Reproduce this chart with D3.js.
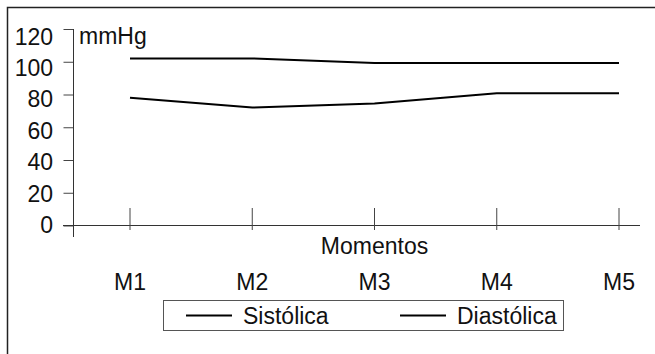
<!DOCTYPE html>
<html>
<head>
<meta charset="utf-8">
<script src="https://cdn.jsdelivr.net/npm/d3@7"></script>
<style>
  html, body { margin: 0; padding: 0; background: #fff; }
  svg { display: block; }
  text { font-family: "Liberation Sans", Arial, sans-serif; fill: #111; }
</style>
</head>
<body>
<svg id="chart" width="655" height="354"></svg>
<script>
// Blood pressure by moment (mmHg)
const momentos = ["M1", "M2", "M3", "M4", "M5"];
const sistolica = [102, 102, 99.3, 99.2, 99.2];
const diastolica = [78, 72, 74.5, 80.7, 80.7];
const yTicks = [0, 20, 40, 60, 80, 100, 120];
const seriesNames = ["Sistólica", "Diastólica"];
const yUnit = "mmHg";
const xTitle = "Momentos";

const svg = d3.select("#chart");
const W = 655, H = 354;

// frame: top and left edges only
svg.append("path")
  .attr("d", `M7.5,${H} V7.5 H${W}`)
  .attr("fill", "none").attr("stroke", "#222").attr("stroke-width", 1.5);

const y = d3.scaleLinear().domain([0, 120]).range([225.5, 29]);
const yLab = d3.scaleLinear().domain([0, 120]).range([224.5, 36]);
const x = d3.scalePoint().domain(momentos).range([130, 619]);
const axisX = 73.5;

// y axis ticks (left side)
const gy = svg.append("g").attr("transform", `translate(${axisX},0)`)
  .call(d3.axisLeft(y).tickValues(yTicks).tickSize(10).tickFormat(""));
gy.select(".domain").remove();
gy.selectAll(".tick line").attr("stroke", "#444");

svg.append("line")
  .attr("x1", axisX).attr("x2", axisX)
  .attr("y1", y(120)).attr("y2", y(0) + 11.5)
  .attr("stroke", "#333");

svg.append("g").selectAll("text").data(yTicks).join("text")
  .attr("x", 53).attr("y", d => yLab(d) + 8.5)
  .attr("text-anchor", "end")
  .attr("font-size", 23)
  .text(d => d);

// x axis
svg.append("line")
  .attr("x1", 63).attr("x2", 640)
  .attr("y1", y(0)).attr("y2", y(0))
  .attr("stroke", "#333");

svg.append("g").selectAll("line").data(momentos).join("line")
  .attr("x1", d => x(d)).attr("x2", d => x(d))
  .attr("y1", y(0) - 17.5).attr("y2", y(0) + 4.5)
  .attr("stroke", "#444");

svg.append("g").selectAll("text").data(momentos).join("text")
  .attr("x", d => x(d)).attr("y", 290)
  .attr("text-anchor", "middle")
  .attr("font-size", 23)
  .text(d => d);

svg.append("text")
  .attr("x", x("M3")).attr("y", 254)
  .attr("text-anchor", "middle")
  .attr("font-size", 23)
  .text(xTitle);

svg.append("text")
  .attr("x", 79).attr("y", 44)
  .attr("font-size", 23)
  .text(yUnit);

// series
const line = d3.line()
  .x((d, i) => x(momentos[i]))
  .y(d => y(d));

[sistolica, diastolica].forEach(vals => {
  svg.append("path")
    .datum(vals)
    .attr("d", line)
    .attr("fill", "none")
    .attr("stroke", "#000")
    .attr("stroke-width", 2);
});

// legend
const lg = svg.append("g");
lg.append("rect")
  .attr("x", 163.5).attr("y", 300.5).attr("width", 400).attr("height", 30)
  .attr("fill", "none").attr("stroke", "#555");

const legendX = [186, 400];
seriesNames.forEach((name, i) => {
  lg.append("line")
    .attr("x1", legendX[i]).attr("x2", legendX[i] + 46)
    .attr("y1", 315.5).attr("y2", 315.5)
    .attr("stroke", "#000").attr("stroke-width", 2);
  lg.append("text")
    .attr("x", legendX[i] + 57).attr("y", 323.5)
    .attr("font-size", 23)
    .text(name);
});
</script>
</body>
</html>
